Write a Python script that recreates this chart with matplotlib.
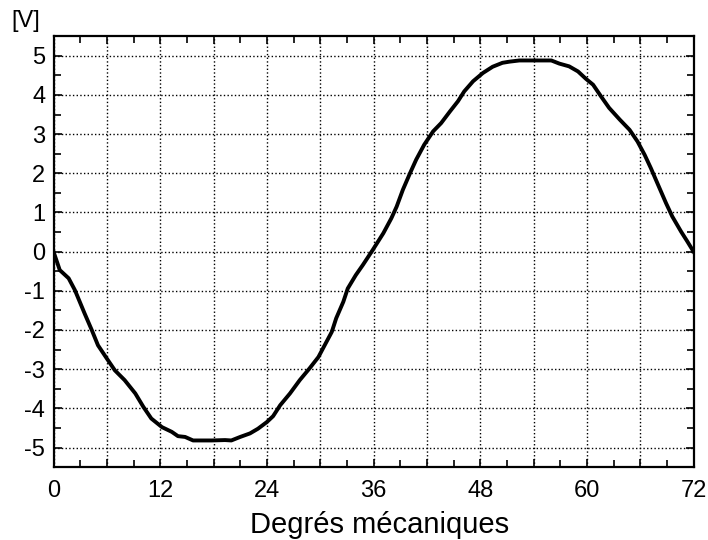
import numpy as np
import matplotlib
matplotlib.use('Agg')
import matplotlib.pyplot as plt
from matplotlib.ticker import MultipleLocator, FuncFormatter

# values (degrees, volts)
degrees = [0, 0.7, 1.7, 2.4, 3.5, 4.3, 5.0, 6.0, 6.9, 8.0, 9.2, 10.1, 11.0, 12.2,
           13.3, 14.0, 14.8, 15.7, 17.0, 17.8, 19.3, 20.0, 21.0, 22.1, 23.0, 24.0,
           24.7, 25.5, 26.6, 27.7, 28.8, 29.8, 30.5, 31.3, 31.8, 32.6, 33.1, 34.0,
           34.8, 35.9, 37.1, 38.0, 38.6, 39.3, 40.1, 40.8, 41.7, 42.7, 43.6, 44.6,
           45.5, 46.2, 47.2, 48.3, 49.4, 50.5, 51.3, 52.4, 54.0, 56.0, 56.9, 58.0,
           59.0, 59.9, 60.7, 61.6, 62.5, 63.7, 64.8, 65.7, 66.5, 67.2, 68.0, 68.9,
           69.6, 70.6, 71.3, 72.0]
voltage = [0, -0.47, -0.68, -0.98, -1.58, -2.0, -2.39, -2.73, -3.03, -3.28, -3.62,
           -3.96, -4.26, -4.48, -4.6, -4.71, -4.73, -4.82, -4.82, -4.82, -4.81, -4.82,
           -4.73, -4.64, -4.52, -4.35, -4.2, -3.92, -3.62, -3.28, -2.98, -2.69, -2.39,
           -2.05, -1.7, -1.28, -0.94, -0.6, -0.34, 0.04, 0.47, 0.85, 1.15, 1.58, 2.0,
           2.35, 2.73, 3.07, 3.28, 3.58, 3.84, 4.09, 4.35, 4.56, 4.72, 4.82, 4.85,
           4.88, 4.88, 4.88, 4.8, 4.73, 4.6, 4.41, 4.26, 3.96, 3.67, 3.37, 3.11, 2.81,
           2.47, 2.13, 1.71, 1.24, 0.9, 0.51, 0.26, 0.0]

plt.rcParams['font.family'] = ['Liberation Sans', 'DejaVu Sans']

fig = plt.figure(figsize=(7.08, 5.4), dpi=100)
ax = fig.add_axes([0.0756, 0.135, 0.904, 0.798])

ax.plot(degrees, voltage, color='black', linewidth=2.8, solid_joinstyle='round')

ax.set_xlim(0, 72)
ax.set_ylim(-5.5, 5.5)
ax.xaxis.set_major_locator(MultipleLocator(6))
ax.xaxis.set_minor_locator(MultipleLocator(3))
ax.xaxis.set_major_formatter(FuncFormatter(lambda v, p: f'{int(v)}' if int(round(v)) % 12 == 0 else ''))
ax.yaxis.set_major_locator(MultipleLocator(1))
ax.yaxis.set_minor_locator(MultipleLocator(0.5))
ax.yaxis.set_major_formatter(FuncFormatter(lambda v, p: f'{int(round(v))}'))

ax.grid(True, which='major', color='black', linestyle=':', linewidth=1.0)
ax.tick_params(which='both', direction='in', top=True, right=True, width=1.2, labelsize=17)
ax.tick_params(which='major', length=6)
ax.tick_params(which='minor', length=5)
ax.tick_params(axis='x', which='major', pad=9)
ax.tick_params(axis='y', which='major', pad=6)
for s in ax.spines.values():
    s.set_linewidth(1.6)

ax.set_xlabel('Degrés mécaniques', fontsize=21, va='baseline')
ax.xaxis.set_label_coords(0.51, -0.153)
fig.text(0.016, 0.961, '[V]', fontsize=17, ha='left', va='center')

fig.savefig('out.png', dpi=100)
